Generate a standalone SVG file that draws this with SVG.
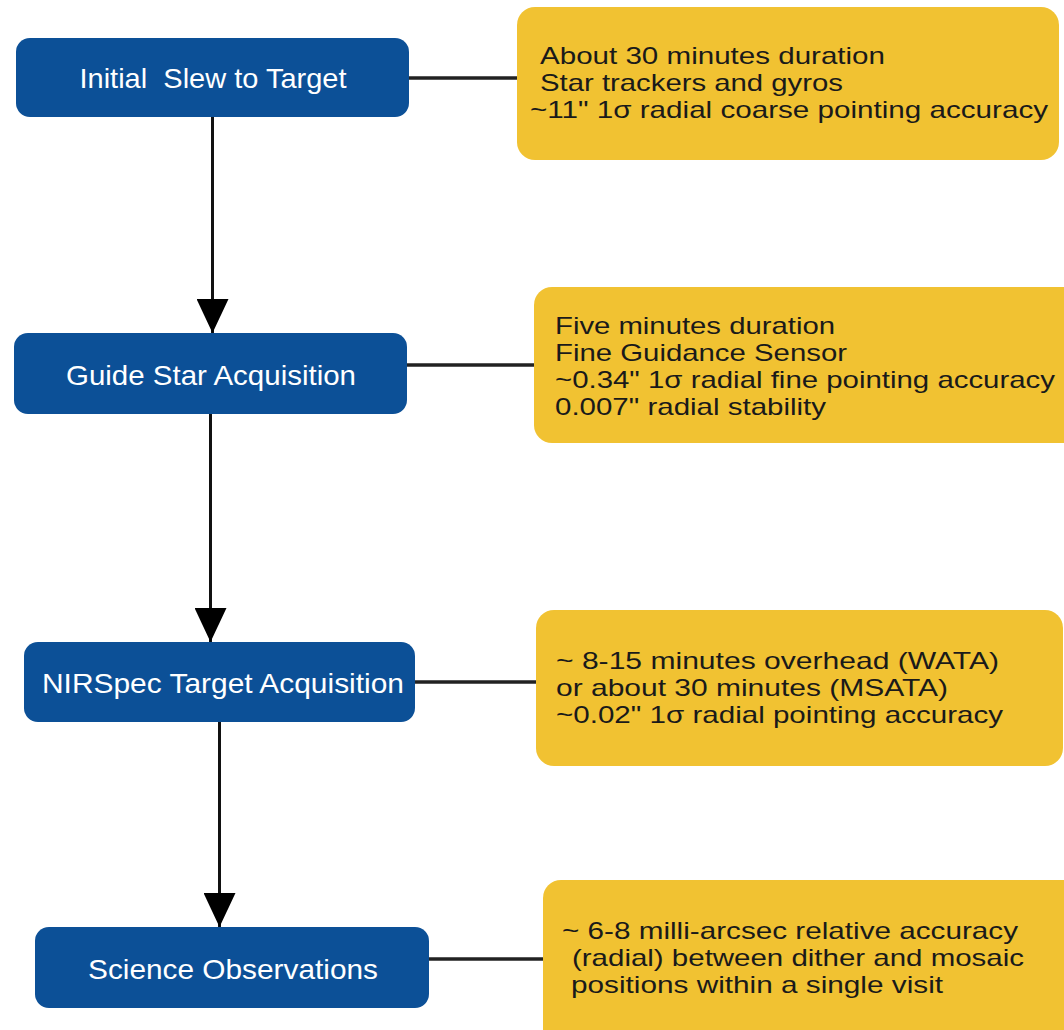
<svg xmlns="http://www.w3.org/2000/svg" width="1064" height="1030" viewBox="0 0 1064 1030">
<defs>
<style>
.step{fill:#0c5097;}
.note{fill:#f1c232;}
.st{font-family:"Liberation Sans",Arial,sans-serif;font-size:28px;fill:#ffffff;text-anchor:middle;}
.nt{font-family:"Liberation Sans",Arial,sans-serif;font-size:24px;fill:#1a1a1a;}
.link{stroke:#222222;stroke-width:3.5;fill:none;}
.flow{stroke:#111111;stroke-width:3;fill:none;}
</style>
<marker id="ah" markerUnits="userSpaceOnUse" markerWidth="36" markerHeight="32" refX="34" refY="16" orient="auto">
<path d="M0,0 L34,16 L0,32 Z" fill="#000000"/>
</marker>
</defs>
<rect width="1064" height="1030" fill="#ffffff"/>
<g id="connectors">
<line class="link" x1="409" y1="78" x2="518" y2="78"/>
<line class="link" x1="407" y1="365" x2="535" y2="365"/>
<line class="link" x1="415" y1="682" x2="537" y2="682"/>
<line class="link" x1="429" y1="959" x2="544" y2="959"/>
<line class="flow" x1="212.5" y1="117" x2="212.5" y2="333" marker-end="url(#ah)"/>
<line class="flow" x1="210.5" y1="414" x2="210.5" y2="642" marker-end="url(#ah)"/>
<line class="flow" x1="219.5" y1="722" x2="219.5" y2="927" marker-end="url(#ah)"/>
</g>
<g id="step1">
<rect class="step" x="16" y="38" width="393" height="79" rx="14"/>
<text class="st" x="213" y="88" textLength="267" lengthAdjust="spacingAndGlyphs" xml:space="preserve">Initial  Slew to Target</text>
</g>
<g id="note1">
<rect class="note" x="517" y="7" width="542" height="153" rx="18"/>
<text class="nt" x="540" y="64" textLength="345" lengthAdjust="spacingAndGlyphs">About 30 minutes duration</text>
<text class="nt" x="540" y="91" textLength="303" lengthAdjust="spacingAndGlyphs">Star trackers and gyros</text>
<text class="nt" x="530" y="118" textLength="518" lengthAdjust="spacingAndGlyphs">~11" 1σ radial coarse pointing accuracy</text>
</g>
<g id="step2">
<rect class="step" x="14" y="333" width="393" height="81" rx="14"/>
<text class="st" x="211" y="385" textLength="290" lengthAdjust="spacingAndGlyphs">Guide Star Acquisition</text>
</g>
<g id="note2">
<rect class="note" x="534" y="287" width="548" height="156" rx="18"/>
<text class="nt" x="555" y="334" textLength="280" lengthAdjust="spacingAndGlyphs">Five minutes duration</text>
<text class="nt" x="555" y="361" textLength="292" lengthAdjust="spacingAndGlyphs">Fine Guidance Sensor</text>
<text class="nt" x="555" y="388" textLength="500" lengthAdjust="spacingAndGlyphs">~0.34" 1σ radial fine pointing accuracy</text>
<text class="nt" x="555" y="415" textLength="271" lengthAdjust="spacingAndGlyphs">0.007" radial stability</text>
</g>
<g id="step3">
<rect class="step" x="24" y="642" width="391" height="80" rx="14"/>
<text class="st" x="223" y="693" textLength="362" lengthAdjust="spacingAndGlyphs">NIRSpec Target Acquisition</text>
</g>
<g id="note3">
<rect class="note" x="536" y="610" width="527" height="156" rx="18"/>
<text class="nt" x="556" y="669" textLength="443" lengthAdjust="spacingAndGlyphs">~ 8-15 minutes overhead (WATA)</text>
<text class="nt" x="556" y="696" textLength="392" lengthAdjust="spacingAndGlyphs">or about 30 minutes (MSATA)</text>
<text class="nt" x="556" y="723" textLength="447" lengthAdjust="spacingAndGlyphs">~0.02" 1σ radial pointing accuracy</text>
</g>
<g id="step4">
<rect class="step" x="35" y="927" width="394" height="81" rx="14"/>
<text class="st" x="233" y="979" textLength="290" lengthAdjust="spacingAndGlyphs">Science Observations</text>
</g>
<g id="note4">
<rect class="note" x="543" y="880" width="540" height="170" rx="18"/>
<text class="nt" x="562" y="939" textLength="456" lengthAdjust="spacingAndGlyphs">~ 6-8 milli-arcsec relative accuracy</text>
<text class="nt" x="572" y="966" textLength="452" lengthAdjust="spacingAndGlyphs">(radial) between dither and mosaic</text>
<text class="nt" x="571" y="993" textLength="372" lengthAdjust="spacingAndGlyphs">positions within a single visit</text>
</g>
</svg>
